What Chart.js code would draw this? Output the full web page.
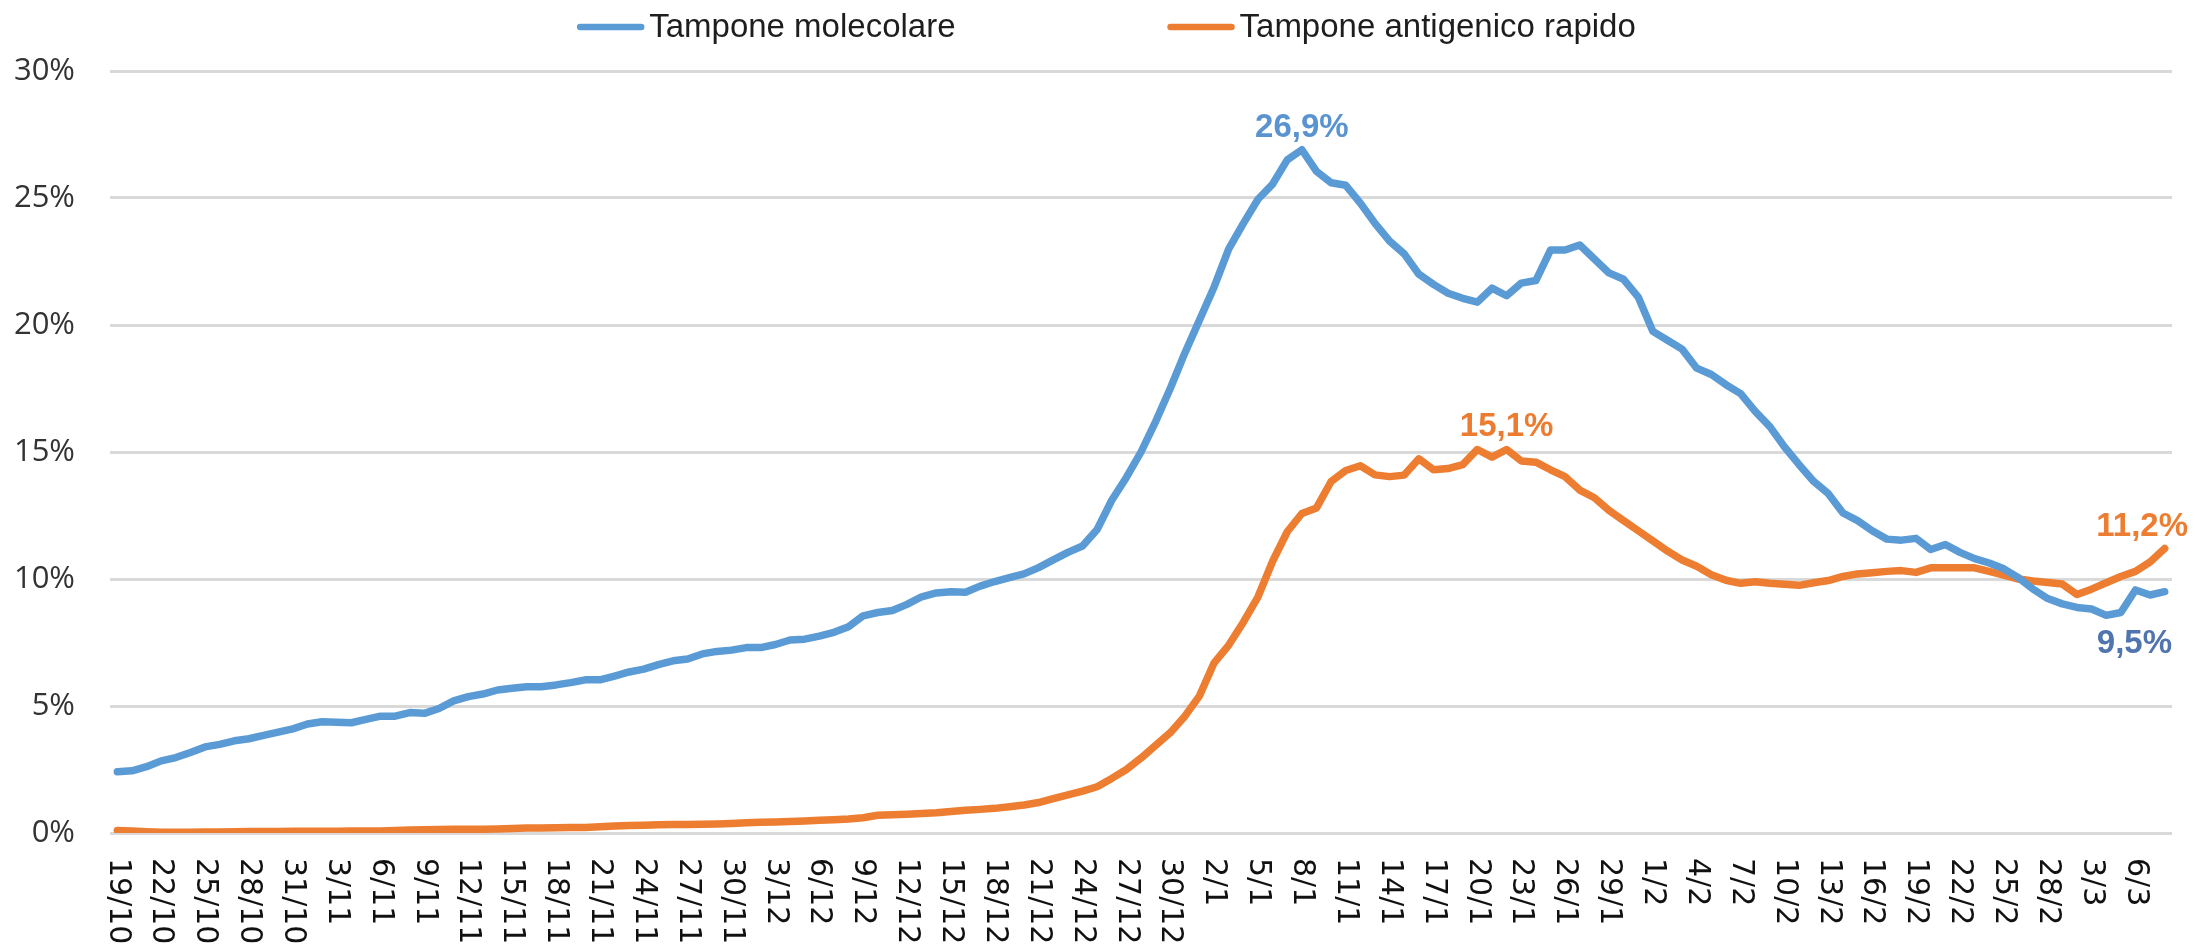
<!DOCTYPE html>
<html>
<head>
<meta charset="utf-8">
<script src="https://cdn.jsdelivr.net/npm/chart.js@4.4.1/dist/chart.umd.min.js"></script>
<style>
  html, body { margin: 0; padding: 0; background: #fff; }
  canvas { display: block; }
</style>
</head>
<body>
<canvas id="chartTamponi" width="2195" height="944"></canvas>
<script>
// giorni dal 19/10 all'8/3: [mese, primo giorno, ultimo giorno]
const monthSpans = [[10, 19, 31], [11, 1, 30], [12, 1, 31], [1, 1, 31], [2, 1, 28], [3, 1, 8]];
const dates = [];
monthSpans.forEach(([m, from, to]) => {
  for (let d = from; d <= to; d++) dates.push(d + '/' + m);
});
const tickEvery = 3;

// tasso di positivita' (%)
const molecolare = [
  2.41, 2.45, 2.61, 2.84, 2.97, 3.17, 3.39, 3.49, 3.63, 3.71,
  3.84, 3.97, 4.10, 4.29, 4.38, 4.36, 4.34, 4.47, 4.60, 4.60,
  4.74, 4.71, 4.90, 5.20, 5.37, 5.47, 5.63, 5.70, 5.76, 5.76,
  5.83, 5.92, 6.03, 6.03, 6.18, 6.34, 6.45, 6.63, 6.78, 6.85,
  7.05, 7.15, 7.20, 7.30, 7.30, 7.42, 7.60, 7.63, 7.75, 7.90,
  8.12, 8.55, 8.68, 8.76, 9.00, 9.30, 9.45, 9.50, 9.48, 9.72,
  9.90, 10.05, 10.20, 10.45, 10.75, 11.05, 11.30, 11.95, 13.10, 14.00,
  15.00, 16.20, 17.50, 18.90, 20.20, 21.50, 23.00, 24.00, 24.95, 25.55,
  26.50, 26.90, 26.05, 25.60, 25.50, 24.80, 24.00, 23.30, 22.80, 22.00,
  21.60, 21.25, 21.05, 20.90, 21.45, 21.15, 21.65, 21.75, 22.95, 22.95,
  23.15, 22.60, 22.05, 21.80, 21.10, 19.75, 19.40, 19.05, 18.30, 18.05,
  17.65, 17.30, 16.60, 16.00, 15.20, 14.50, 13.84, 13.36, 12.60, 12.30,
  11.90, 11.57, 11.53, 11.60, 11.16, 11.36, 11.05, 10.80, 10.63, 10.40,
  10.05, 9.60, 9.23, 9.02, 8.88, 8.82, 8.57, 8.68, 9.57, 9.37,
  9.50
];
const antigenico = [
  0.10, 0.08, 0.05, 0.03, 0.03, 0.03, 0.04, 0.04, 0.05, 0.06,
  0.06, 0.06, 0.07, 0.07, 0.07, 0.07, 0.08, 0.08, 0.08, 0.10,
  0.12, 0.13, 0.14, 0.15, 0.15, 0.15, 0.16, 0.18, 0.20, 0.20,
  0.21, 0.22, 0.22, 0.25, 0.28, 0.30, 0.31, 0.32, 0.33, 0.33,
  0.34, 0.35, 0.37, 0.40, 0.42, 0.43, 0.45, 0.47, 0.50, 0.52,
  0.55, 0.60, 0.70, 0.72, 0.74, 0.77, 0.80, 0.85, 0.90, 0.93,
  0.97, 1.03, 1.10, 1.20, 1.35, 1.50, 1.65, 1.82, 2.15, 2.50,
  2.95, 3.45, 3.95, 4.60, 5.40, 6.70, 7.40, 8.30, 9.30, 10.70,
  11.86, 12.58, 12.80, 13.84, 14.27, 14.46, 14.10, 14.03, 14.09, 14.73,
  14.30, 14.35, 14.50, 15.10, 14.80, 15.10, 14.65, 14.60, 14.30, 14.03,
  13.50, 13.20, 12.70, 12.30, 11.90, 11.50, 11.10, 10.75, 10.50, 10.17,
  9.95, 9.83, 9.89, 9.83, 9.79, 9.75, 9.85, 9.94, 10.10, 10.20,
  10.25, 10.30, 10.33, 10.26, 10.44, 10.44, 10.44, 10.44, 10.30, 10.15,
  10.00, 9.92, 9.86, 9.80, 9.39, 9.60, 9.85, 10.10, 10.30, 10.67,
  11.20
];

const blu = '#5b9bd5';
const arancio = '#ed7d31';

// etichette sui punti: serie, indice, posizione
const marks = [
  { ds: 0, idx: 81, pos: 'above', color: '#5a94d0', edge: 0 },
  { ds: 0, idx: 140, pos: 'below', color: '#4f74ae', edge: 23 },
  { ds: 1, idx: 95, pos: 'above', color: '#ec7c30', edge: 0 },
  { ds: 1, idx: 140, pos: 'above', color: '#ed7d31', edge: 7 }
];

const fmt = v => v.toFixed(1).replace('.', ',') + '%';

const legendRow = {
  id: 'legendRow',
  afterDraw(chart) {
    const ctx = chart.ctx;
    ctx.save();
    ctx.font = '33px "Liberation Sans"';
    const sample = 67, gapText = 5, gapItem = 212;
    const items = chart.data.datasets.map(ds => ({
      text: ds.label, color: ds.borderColor, w: ctx.measureText(ds.label).width
    }));
    const total = items.reduce((s, it) => s + sample + gapText + it.w, 0) + gapItem * (items.length - 1);
    let x = chart.width / 2 + 9 - total / 2;
    items.forEach(it => {
      ctx.strokeStyle = it.color;
      ctx.lineWidth = 6.5;
      ctx.lineCap = 'round';
      ctx.beginPath();
      ctx.moveTo(x + 3, 27);
      ctx.lineTo(x + sample - 3, 27);
      ctx.stroke();
      ctx.fillStyle = '#1e1e1e';
      ctx.textBaseline = 'alphabetic';
      ctx.fillText(it.text, x + sample + gapText, 37);
      x += sample + gapText + it.w + gapItem;
    });
    ctx.restore();
  }
};

const dateTicks = {
  id: 'dateTicks',
  afterDraw(chart) {
    const ctx = chart.ctx;
    const xs = chart.scales.x;
    const top = chart.chartArea.bottom + 25;
    ctx.save();
    ctx.font = '30px "DejaVu Sans"';
    ctx.fillStyle = '#111';
    ctx.textAlign = 'left';
    ctx.textBaseline = 'middle';
    dates.forEach((d, i) => {
      if (i % tickEvery) return;
      ctx.save();
      ctx.translate(xs.getPixelForValue(i), top);
      ctx.rotate(Math.PI / 2);
      ctx.fillText(d, 0, 0);
      ctx.restore();
    });
    ctx.restore();
  }
};

const pointLabels = {
  id: 'pointLabels',
  afterDatasetsDraw(chart) {
    const ctx = chart.ctx;
    ctx.save();
    ctx.font = 'bold 33px "Liberation Sans"';
    ctx.textAlign = 'center';
    ctx.textBaseline = 'alphabetic';
    marks.forEach(m => {
      const pt = chart.getDatasetMeta(m.ds).data[m.idx];
      const txt = fmt(chart.data.datasets[m.ds].data[m.idx]);
      const w = ctx.measureText(txt).width;
      const cx = Math.min(pt.x, chart.width - m.edge - w / 2);
      const y = m.pos === 'above' ? pt.y - 13 : pt.y + 61;
      ctx.fillStyle = m.color;
      ctx.fillText(txt, cx, y);
    });
    ctx.restore();
  }
};

new Chart(document.getElementById('chartTamponi'), {
  type: 'line',
  data: {
    labels: dates,
    datasets: [{
      label: 'Tampone molecolare',
      data: molecolare,
      borderColor: blu,
      backgroundColor: blu,
      borderWidth: 7.5,
      pointRadius: 0,
      borderJoinStyle: 'round',
      borderCapStyle: 'round',
      tension: 0
    }, {
      label: 'Tampone antigenico rapido',
      data: antigenico,
      borderColor: arancio,
      backgroundColor: arancio,
      borderWidth: 7.5,
      pointRadius: 0,
      borderJoinStyle: 'round',
      borderCapStyle: 'round',
      tension: 0
    }]
  },
  options: {
    responsive: false,
    devicePixelRatio: 1,
    animation: false,
    layout: { padding: { top: 71, right: 23, left: 0, bottom: 0 } },
    plugins: {
      legend: { display: false },
      tooltip: { enabled: false }
    },
    scales: {
      x: {
        offset: true,
        ticks: { display: false },
        grid: { display: false },
        border: { display: false },
        afterFit: s => { s.height = 111; }
      },
      y: {
        min: 0,
        max: 30,
        ticks: {
          stepSize: 5,
          callback: v => v + '%',
          font: { family: '"Open Sans"', size: 31 },
          color: '#333',
          padding: 35
        },
        grid: { color: '#d9d9d9', lineWidth: 3, drawTicks: false },
        border: { display: false },
        afterFit: s => { s.width = 110; }
      }
    }
  },
  plugins: [legendRow, dateTicks, pointLabels]
});
</script>
</body>
</html>
